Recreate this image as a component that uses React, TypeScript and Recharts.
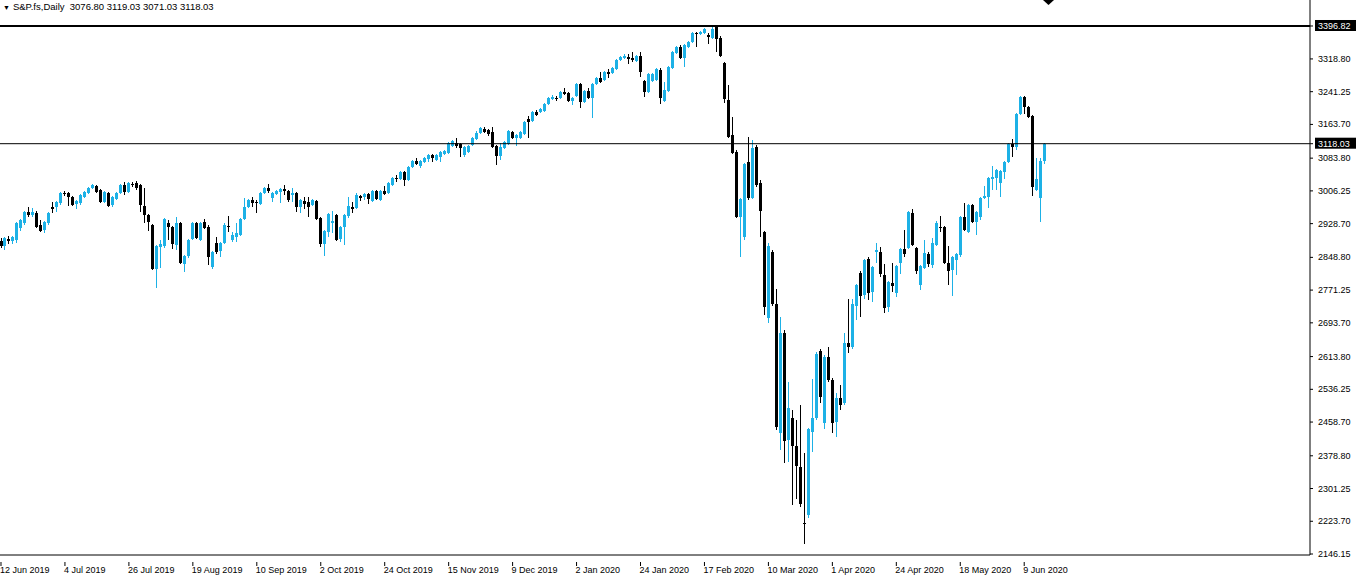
import React from 'react';
import { ComposedChart, Bar, XAxis, YAxis, ReferenceLine } from 'recharts';

const BLUE = '#1DB1E6';
const FONT = '"Liberation Sans", Arial, sans-serif';

// trading calendar (daily bars, CFD: trades on most US holidays)
const startDate = '2019-06-12';
const holidays = ['2019-12-25', '2020-01-01', '2020-04-10'];
const months = ['Jan', 'Feb', 'Mar', 'Apr', 'May', 'Jun', 'Jul', 'Aug', 'Sep', 'Oct', 'Nov', 'Dec'];
const slotCount = 328; // bars + empty chart shift on the right

const opens = [
  2888, 2876, 2892, 2888, 2890, 2918, 2930, 2956, 2949, 2954,
  2925, 2914, 2930, 2968, 2968, 2978, 3001, 3001, 2992, 2975,
  2978, 2992, 3001, 3013, 3018, 3008, 2980, 3001, 2973, 2987,
  3001, 3020, 3004, 3023, 3025, 3020, 2970, 2949, 2925, 2821,
  2873, 2876, 2930, 2921, 2878, 2930, 2833, 2852, 2892, 2930,
  2890, 2933, 2921, 2826, 2883, 2864, 2883, 2923, 2890, 2897,
  2902, 2940, 2968, 2985, 2980, 2975, 3001, 3013, 2989, 2999,
  3004, 3011, 3006, 2997, 3001, 2968, 2982, 2980, 2973, 2982,
  2942, 2880, 2909, 2930, 2949, 2892, 2921, 2947, 2968, 2966,
  2994, 2992, 2999, 2982, 3006, 2985, 3006, 3001, 3020, 3037,
  3034, 3051, 3032, 3063, 3077, 3065, 3075, 3082, 3091, 3079,
  3087, 3094, 3096, 3113, 3120, 3117, 3091, 3098, 3115, 3129,
  3143, 3153, 3151, 3146, 3113, 3089, 3108, 3117, 3146, 3132,
  3132, 3141, 3177, 3172, 3193, 3193, 3196, 3212, 3224, 3226,
  3226, 3241, 3238, 3219, 3231, 3259, 3217, 3243, 3226, 3259,
  3274, 3269, 3288, 3286, 3295, 3316, 3321, 3323, 3321, 3314,
  3326, 3267, 3241, 3267, 3269, 3293, 3219, 3243, 3297, 3333,
  3347, 3321, 3347, 3359, 3380, 3378, 3380, 3376, 3368, 3394,
  3368, 3309, 3222, 3139, 3098, 2944, 2897, 3075, 2989, 3110,
  3025, 2909, 2705, 2862, 2738, 2433, 2670, 2416, 2468, 2402,
  2352, 2220, 2239, 2435, 2468, 2627, 2456, 2613, 2558, 2459,
  2516, 2504, 2646, 2637, 2734, 2812, 2760, 2845, 2767, 2862,
  2862, 2807, 2731, 2788, 2764, 2835, 2869, 2871, 2954, 2871,
  2783, 2824, 2857, 2831, 2878, 2921, 2921, 2835, 2819, 2843,
  2854, 2944, 2909, 2973, 2933, 2944, 2989, 2992, 3034, 3037,
  3025, 3051, 3075, 3117, 3110, 3188, 3229, 3205, 3184, 3008,
  2989, 3076.8,
];

const highs = [
  2895, 2897, 2899, 2899, 2933, 2940, 2959, 2968, 2966, 2959,
  2937, 2935, 2956, 2980, 2982, 3004, 3006, 3004, 2994, 2985,
  2999, 3006, 3016, 3023, 3020, 3011, 3006, 3004, 2994, 3004,
  3023, 3027, 3027, 3027, 3030, 3023, 3013, 2952, 2928, 2878,
  2890, 2942, 2937, 2923, 2944, 2933, 2854, 2892, 2933, 2933,
  2933, 2940, 2925, 2864, 2897, 2885, 2930, 2947, 2909, 2930,
  2942, 2989, 2987, 2992, 2985, 3004, 3016, 3023, 3004, 3008,
  3013, 3020, 3008, 3013, 3004, 2987, 2992, 2992, 2987, 2985,
  2944, 2914, 2954, 2959, 2952, 2923, 2952, 2992, 2980, 3001,
  2997, 3001, 3001, 3008, 3008, 3008, 3018, 3027, 3039, 3044,
  3053, 3053, 3065, 3079, 3084, 3079, 3087, 3094, 3094, 3094,
  3101, 3103, 3122, 3127, 3132, 3120, 3113, 3115, 3134, 3148,
  3158, 3158, 3153, 3158, 3115, 3120, 3124, 3151, 3148, 3141,
  3148, 3172, 3184, 3196, 3198, 3203, 3214, 3229, 3233, 3231,
  3243, 3250, 3241, 3229, 3262, 3262, 3245, 3250, 3262, 3276,
  3288, 3290, 3295, 3300, 3319, 3326, 3331, 3331, 3335, 3328,
  3335, 3269, 3286, 3286, 3297, 3297, 3264, 3302, 3338, 3349,
  3352, 3354, 3361, 3383, 3383, 3385, 3392, 3380, 3394, 3399,
  3373, 3312, 3257, 3181, 3103, 2989, 3072, 3134, 3127, 3115,
  3032, 2911, 2883, 2866, 2774, 2708, 2677, 2554, 2487, 2464,
  2499, 2385, 2445, 2561, 2625, 2632, 2618, 2637, 2563, 2528,
  2546, 2670, 2750, 2750, 2786, 2816, 2845, 2850, 2828, 2883,
  2873, 2833, 2793, 2835, 2831, 2871, 2914, 2959, 2963, 2873,
  2831, 2890, 2862, 2895, 2935, 2947, 2923, 2876, 2852, 2859,
  2947, 2978, 2975, 2975, 2959, 2992, 3018, 3039, 3065, 3058,
  3056, 3077, 3120, 3129, 3191, 3231, 3231, 3207, 3186, 3084,
  3084, 3119.03,
];

const lows = [
  2871, 2866, 2880, 2880, 2883, 2911, 2925, 2944, 2944, 2918,
  2909, 2907, 2925, 2954, 2956, 2973, 2994, 2970, 2970, 2963,
  2973, 2989, 2999, 3011, 3001, 2978, 2978, 2968, 2968, 2985,
  2999, 2997, 3001, 3016, 3008, 2956, 2930, 2911, 2819, 2776,
  2824, 2871, 2890, 2869, 2866, 2833, 2814, 2847, 2890, 2892,
  2888, 2916, 2831, 2821, 2857, 2850, 2880, 2909, 2885, 2885,
  2899, 2937, 2966, 2968, 2954, 2973, 2999, 3001, 2980, 2997,
  2978, 2997, 2980, 2980, 2956, 2954, 2963, 2944, 2970, 2937,
  2873, 2852, 2897, 2907, 2888, 2885, 2878, 2942, 2954, 2963,
  2982, 2985, 2975, 2980, 2985, 2982, 2997, 2999, 3018, 3027,
  3032, 3018, 3030, 3060, 3068, 3060, 3072, 3075, 3075, 3077,
  3075, 3091, 3094, 3110, 3108, 3087, 3087, 3096, 3113, 3127,
  3141, 3143, 3136, 3108, 3068, 3079, 3106, 3115, 3129, 3113,
  3129, 3139, 3132, 3169, 3184, 3191, 3193, 3210, 3222, 3219,
  3224, 3233, 3217, 3210, 3229, 3203, 3214, 3224, 3179, 3257,
  3262, 3267, 3274, 3283, 3293, 3314, 3319, 3307, 3312, 3312,
  3276, 3229, 3238, 3264, 3267, 3212, 3217, 3241, 3295, 3331,
  3319, 3300, 3345, 3357, 3347, 3376, 3378, 3354, 3366, 3335,
  3323, 3214, 3132, 3094, 2942, 2850, 2890, 2985, 2987, 3016,
  2897, 2712, 2693, 2734, 2440, 2393, 2362, 2364, 2262, 2276,
  2257, 2170, 2231, 2388, 2464, 2504, 2442, 2554, 2433, 2423,
  2487, 2499, 2622, 2632, 2700, 2708, 2750, 2748, 2743, 2835,
  2802, 2717, 2719, 2767, 2755, 2809, 2850, 2869, 2876, 2809,
  2771, 2821, 2826, 2824, 2876, 2909, 2833, 2783, 2757, 2807,
  2850, 2911, 2907, 2930, 2902, 2937, 2987, 2966, 3008, 3008,
  2992, 3034, 3072, 3087, 3103, 3186, 3188, 3179, 2994, 3006,
  2933, 3071.03,
];

const closes = [
  2876, 2895, 2888, 2897, 2930, 2937, 2956, 2949, 2956, 2921,
  2911, 2933, 2954, 2963, 2980, 3001, 2999, 2992, 2973, 2982,
  2997, 3004, 3013, 3020, 3004, 2980, 3004, 2970, 2992, 3001,
  3020, 3004, 3025, 3020, 3013, 2973, 2949, 2933, 2821, 2876,
  2880, 2940, 2921, 2880, 2930, 2835, 2852, 2890, 2930, 2895,
  2930, 2918, 2850, 2862, 2862, 2883, 2925, 2921, 2902, 2907,
  2940, 2968, 2985, 2978, 2978, 3001, 3013, 3006, 3001, 3006,
  3011, 3006, 2985, 3001, 2968, 2985, 2975, 2968, 2985, 2940,
  2880, 2911, 2952, 2935, 2890, 2921, 2949, 2970, 2963, 2997,
  2989, 2999, 2987, 3006, 2987, 3006, 2999, 3025, 3037, 3034,
  3051, 3032, 3063, 3077, 3070, 3077, 3084, 3091, 3084, 3091,
  3098, 3101, 3120, 3124, 3113, 3108, 3110, 3113, 3132, 3143,
  3155, 3146, 3141, 3110, 3089, 3110, 3122, 3148, 3132, 3139,
  3146, 3169, 3169, 3193, 3186, 3200, 3212, 3226, 3229, 3224,
  3241, 3236, 3219, 3226, 3259, 3217, 3243, 3226, 3259, 3274,
  3264, 3288, 3283, 3297, 3316, 3323, 3326, 3319, 3316, 3326,
  3288, 3241, 3283, 3283, 3295, 3226, 3245, 3300, 3335, 3347,
  3321, 3352, 3359, 3380, 3378, 3383, 3390, 3371, 3390, 3366,
  3326, 3224, 3134, 3096, 2944, 2987, 3070, 2989, 3108, 3020,
  2959, 2731, 2876, 2738, 2447, 2670, 2414, 2492, 2402, 2355,
  2265, 2217, 2442, 2468, 2620, 2518, 2613, 2558, 2456, 2516,
  2499, 2646, 2637, 2738, 2783, 2757, 2843, 2764, 2826, 2866,
  2809, 2729, 2790, 2781, 2828, 2869, 2857, 2956, 2878, 2816,
  2828, 2859, 2833, 2883, 2930, 2918, 2835, 2816, 2850, 2857,
  2944, 2914, 2973, 2933, 2956, 2989, 2994, 3037, 3039, 3056,
  3053, 3075, 3117, 3110, 3188, 3229, 3205, 3181, 3016, 3034,
  3077, 3118.03,
];

const tickLabels = [
  '12 Jun 2019', '4 Jul 2019', '26 Jul 2019', '19 Aug 2019', '10 Sep 2019', '2 Oct 2019',
  '24 Oct 2019', '15 Nov 2019', '9 Dec 2019', '2 Jan 2020', '24 Jan 2020', '17 Feb 2020',
  '10 Mar 2020', '1 Apr 2020', '24 Apr 2020', '18 May 2020', '9 Jun 2020',
];

const priceTicks = [
  3318.8, 3241.25, 3163.7, 3083.8, 3006.25, 2928.7, 2848.8, 2771.25,
  2693.7, 2613.8, 2536.25, 2458.7, 2378.8, 2301.25, 2223.7, 2146.15,
];
const lineLevels = [3396.82, 3118.03];
const priceDomain = [2143.8, 3458.4];

const title = 'S&P.fs,Daily  3076.80 3119.03 3071.03 3118.03';

function tradingDays(count: number) {
  const out: string[] = [];
  const d = new Date(startDate + 'T00:00:00Z');
  while (out.length < count) {
    const iso = d.toISOString().slice(0, 10);
    const wd = d.getUTCDay();
    if (wd !== 0 && wd !== 6 && !holidays.includes(iso)) {
      out.push(`${d.getUTCDate()} ${months[d.getUTCMonth()]} ${d.getUTCFullYear()}`);
    }
    d.setUTCDate(d.getUTCDate() + 1);
  }
  return out;
}

const data = tradingDays(slotCount).map((date, i) =>
  i < opens.length
    ? { date, open: opens[i], high: highs[i], low: lows[i], close: closes[i], range: [lows[i], highs[i]] }
    : { date }
);

function Candle(props: any) {
  const { x, y, width, height, payload } = props;
  if (!payload || payload.open == null) return null;
  const { open, high, low, close } = payload;
  const span = high - low || 1;
  const py = (v: number) => y + ((high - v) / span) * height;
  const color = close >= open ? BLUE : '#000';
  const c = Math.floor(x + width / 2);
  const wTop = Math.round(y);
  const wBot = Math.round(y + height);
  const bTop = Math.round(py(Math.max(open, close)));
  const bBot = Math.round(py(Math.min(open, close)));
  return (
    <g>
      <rect x={c} y={wTop} width={1} height={Math.max(1, wBot - wTop)} fill={color} />
      <rect x={c - 1} y={bTop} width={3} height={Math.max(1, bBot - bTop)} fill={color} />
    </g>
  );
}

function PriceTick(props: any) {
  const { x, y, payload } = props;
  const v = payload.value;
  const hl = lineLevels.includes(v);
  return (
    <g>
      {hl && <rect x={x - 3} y={y - 6} width={41} height={11} fill="#000" />}
      <text x={x} y={y} dy={3} fontSize={9} fontFamily={FONT} fill={hl ? '#fff' : '#000'} textAnchor="start">
        {v.toFixed(2)}
      </text>
    </g>
  );
}

function DateTick(props: any) {
  const { x, y, payload } = props;
  return (
    <g>
      <line x1={x} x2={x} y1={y - 1} y2={y + 3} stroke="#000" />
      <text x={x - 1} y={y + 10} fontSize={9} fontFamily={FONT} fill="#000" textAnchor="start">
        {payload.value}
      </text>
    </g>
  );
}

export default function App() {
  return (
    <div style={{ position: 'relative', width: 1358, height: 577, background: '#fff' }}>
      <style>{'body{margin:0;background:#fff}'}</style>
      <ComposedChart
        width={1358}
        height={577}
        data={data}
        margin={{ top: 0, right: 0, bottom: 0, left: -1 }}
        barCategoryGap={0}
        barGap={0}
      >
        <XAxis
          dataKey="date"
          ticks={tickLabels}
          interval={0}
          height={22}
          tickLine={false}
          axisLine={{ stroke: '#000' }}
          tick={<DateTick />}
        />
        <YAxis
          orientation="right"
          type="number"
          width={48}
          domain={priceDomain}
          allowDataOverflow
          ticks={[...priceTicks, ...lineLevels]}
          interval={0}
          tickSize={3}
          tickMargin={5}
          axisLine={{ stroke: '#000' }}
          tickLine={{ stroke: '#000' }}
          tick={<PriceTick />}
        />
        <ReferenceLine y={lineLevels[0]} stroke="#000" strokeWidth={2} />
        <ReferenceLine y={lineLevels[1]} stroke="#000" strokeWidth={1} />
        <Bar dataKey="range" shape={<Candle />} isAnimationActive={false} />
      </ComposedChart>
      <div
        style={{
          position: 'absolute', left: 3, top: 1, fontFamily: FONT, fontSize: 9.5,
          whiteSpace: 'pre', color: '#000', lineHeight: '12px',
        }}
      >
        <span style={{ fontSize: 7, marginRight: 3 }}>▼</span>
        {title}
      </div>
      <svg style={{ position: 'absolute', left: 0, top: 0 }} width={1358} height={8}>
        <polygon points="1043,0 1054,0 1048.5,5" fill="#000" />
      </svg>
    </div>
  );
}
